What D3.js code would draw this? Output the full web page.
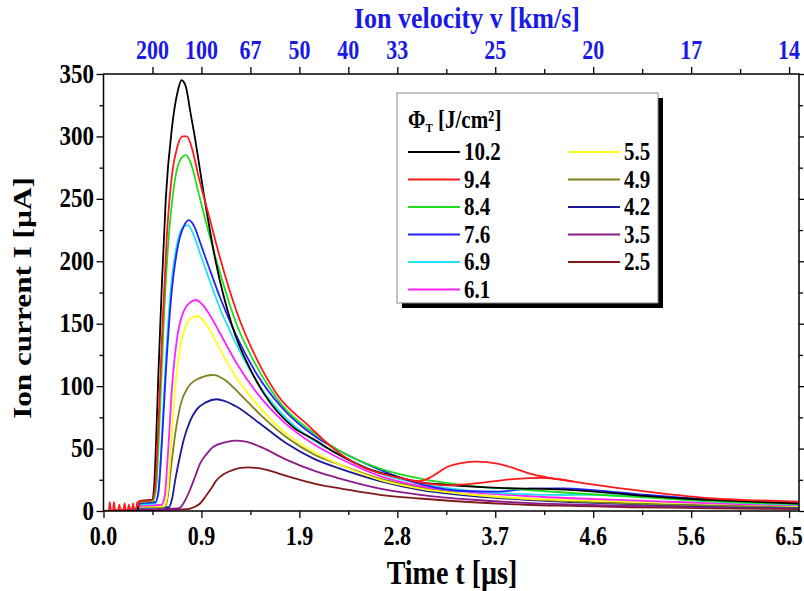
<!DOCTYPE html>
<html>
<head>
<meta charset="utf-8">
<script src="https://cdn.jsdelivr.net/npm/d3@7"></script>
<style>
  html, body { margin: 0; padding: 0; background: #fff; }
  svg { display: block; }
  text { font-family: "Liberation Serif", "Times New Roman", serif; font-weight: bold; }
</style>
</head>
<body>
<svg id="chart" width="804" height="591"></svg>
<script>
// Fluence labels (J/cm²) and line colours, legend order
const fluences = ["10.2", "9.4", "8.4", "7.6", "6.9", "6.1", "5.5", "4.9", "4.2", "3.5", "2.5"];
const colors = ["#000000", "#ff1a1a", "#1fdc1f", "#2222ff", "#22e2f2", "#ff22ff", "#ffff1a", "#80801f", "#1a1a99", "#8c1a8c", "#801a1a"];

// Ion current traces: [time µs, current µA]
const trace10_2 = [[0,0],[0.32,0],[0.34,8],[0.46,9],[0.48,20],[0.50,60],[0.52,110],[0.55,175],[0.59,250],[0.65,308],[0.70,335],[0.74,345],[0.78,340],[0.82,321],[0.86,302],[0.95,254],[1.06,201],[1.22,148],[1.4,112],[1.52,94],[1.8,67],[2.0,57],[2.21,46],[2.5,34],[2.8,27],[3.0,23],[3.25,21],[3.5,19.5],[3.75,18.5],[4.0,18],[4.25,17.5],[4.5,16.5],[5.0,13],[5.5,10],[6.0,8],[6.59,6]];
const trace9_4 = [[0,0],[0.05,0],[0.06,7],[0.07,0.5],[0.09,0.5],[0.10,7],[0.11,0.5],[0.14,1],[0.15,5],[0.16,1],[0.19,1],[0.20,6],[0.21,1],[0.23,1],[0.24,5],[0.25,1.5],[0.27,1.5],[0.28,6],[0.29,2],[0.31,2],[0.32,7],[0.33,4],[0.34,8],[0.46,8.5],[0.49,20],[0.52,70],[0.56,150],[0.6,220],[0.65,270],[0.70,292],[0.75,300],[0.79,300],[0.84,290],[0.9,268],[1.0,236],[1.1,204],[1.26,160],[1.45,122],[1.64,94],[1.96,67],[2.15,52],[2.46,35],[2.78,27],[3.0,24],[3.12,28],[3.25,35],[3.4,38.5],[3.54,39.5],[3.73,38],[3.9,34],[4.04,30],[4.2,27],[4.36,24.8],[4.61,21.5],[5.15,15.5],[5.78,10],[6.2,8.5],[6.59,7.5]];
const trace9_4b = [[2.9,24.5],[3.0,23],[3.25,20.5],[3.57,22.5],[3.88,25.5],[4.14,26.5],[4.3,25.5],[4.45,23.8]];
const trace8_4 = [[0,0],[0.32,0],[0.34,7],[0.47,8],[0.50,20],[0.53,70],[0.57,150],[0.61,210],[0.66,255],[0.72,280],[0.78,285],[0.83,278],[0.9,255],[1.0,222],[1.1,192],[1.25,152],[1.45,116],[1.7,84],[2.0,62],[2.24,48],[2.62,34],[3.0,26],[3.5,20],[4.0,17],[4.5,14],[5.0,11.5],[5.5,9],[6.0,7],[6.59,5.5]];
const trace7_6 = [[0,0],[0.32,0],[0.34,6],[0.49,7],[0.52,15],[0.55,50],[0.59,110],[0.64,170],[0.70,210],[0.76,228],[0.81,233],[0.86,228],[0.92,214],[1.0,195],[1.1,172],[1.25,142],[1.45,110],[1.7,82],[2.0,60],[2.24,48],[2.62,33],[3.03,21],[3.41,16],[3.73,15.5],[4.04,18],[4.36,18.2],[4.61,17],[5.15,12.8],[5.78,9],[6.59,6]];
const trace6_9 = [[0,0],[0.32,0],[0.34,5],[0.49,6],[0.52,15],[0.55,55],[0.59,120],[0.64,180],[0.70,215],[0.75,227],[0.80,229],[0.85,222],[0.92,205],[1.0,186],[1.1,163],[1.25,135],[1.45,104],[1.7,77],[2.0,56],[2.24,45],[2.62,30],[3.0,22],[3.5,16],[4.0,13.5],[4.36,12.8],[4.61,13],[5.15,11.2],[5.78,7.5],[6.59,5]];
const trace6_1 = [[0,0],[0.32,0],[0.34,4],[0.55,5],[0.58,12],[0.61,45],[0.65,100],[0.70,140],[0.76,160],[0.82,167],[0.877,169],[0.93,166],[1.0,158],[1.1,143],[1.25,120],[1.45,95],[1.7,72],[2.0,53],[2.24,42],[2.62,28],[3.0,20],[3.5,15],[4.0,12],[4.5,10],[5.0,8.5],[5.5,7],[6.0,5.5],[6.59,4.5]];
const trace5_5 = [[0,0],[0.32,0],[0.34,3.5],[0.57,4],[0.60,10],[0.63,40],[0.67,90],[0.72,128],[0.78,148],[0.84,155],[0.893,156],[0.95,152],[1.0,146],[1.1,130],[1.25,108],[1.45,86],[1.7,64],[2.0,47],[2.24,37],[2.62,25],[3.0,18],[3.5,13],[4.0,10],[4.5,8.5],[5.0,7.5],[5.5,6.5],[6.0,5.5],[6.59,4]];
const trace4_9 = [[0,0],[0.32,0],[0.34,3],[0.58,3],[0.61,12],[0.64,35],[0.68,62],[0.73,85],[0.80,99],[0.90,106],[1.04,109],[1.15,105],[1.3,93],[1.5,76],[1.75,58],[2.0,45],[2.24,37],[2.62,26],[3.0,19],[3.5,13],[4.0,9.5],[4.5,7.5],[5.0,6],[5.5,5],[6.0,4],[6.59,3.5]];
const trace4_2 = [[0,0],[0.32,0],[0.34,2.5],[0.62,3],[0.65,10],[0.68,25],[0.72,42],[0.76,57],[0.82,72],[0.88,81],[0.97,87],[1.073,89.5],[1.15,88],[1.262,83.5],[1.483,70],[1.736,54],[1.99,42],[2.24,34],[2.62,24],[3.0,17],[3.5,12],[4.0,9],[4.5,7],[5.0,5.5],[5.5,4.5],[6.0,3.5],[6.59,3]];
const trace3_5 = [[0,0],[0.34,1],[0.70,2],[0.73,3],[0.77,8],[0.82,17],[0.87,28],[0.915,38],[0.98,46],[1.041,51.5],[1.15,55],[1.25,56.3],[1.35,55.5],[1.483,51.5],[1.736,41],[2.02,31.5],[2.24,26],[2.62,18],[3.0,13],[3.5,9],[4.0,6.5],[4.5,5],[5.0,4],[5.5,3.5],[6.0,3],[6.59,2.5]];
const trace2_5 = [[0,0],[0.34,0.5],[0.80,1.5],[0.84,2.5],[0.88,4],[0.915,6],[0.97,12],[1.02,18],[1.073,24.8],[1.15,30],[1.23,33],[1.3,34.5],[1.373,35],[1.45,34.5],[1.547,33],[1.7,29],[1.863,25],[2.05,21],[2.24,18.2],[2.62,13],[3.0,10],[3.5,7],[4.0,5],[4.5,4],[5.0,3],[5.5,2.5],[6.0,2],[6.59,1.5]];

// Axis ticks
const timeTickStep = 0.928;           // µs between labelled time ticks
const timeTickLabels = ["0.0", "0.9", "1.9", "2.8", "3.7", "4.6", "5.6", "6.5"];
const currentTicks = [0, 50, 100, 150, 200, 250, 300, 350];
const velocityTickLabels = ["200", "100", "67", "50", "40", "33", "", "25", "", "20", "", "17", "", "14"];

const series = [
  { label: "10.2", data: [trace10_2] },
  { label: "9.4",  data: [trace9_4, trace9_4b] },
  { label: "8.4",  data: [trace8_4] },
  { label: "7.6",  data: [trace7_6] },
  { label: "6.9",  data: [trace6_9] },
  { label: "6.1",  data: [trace6_1] },
  { label: "5.5",  data: [trace5_5] },
  { label: "4.9",  data: [trace4_9] },
  { label: "4.2",  data: [trace4_2] },
  { label: "3.5",  data: [trace3_5] },
  { label: "2.5",  data: [trace2_5] }
].map(s => ({ ...s, color: colors[fluences.indexOf(s.label)] }));

const svg = d3.select("#chart");
const M = { left: 103.5, right: 799, top: 74, bottom: 511 };
const BLUE = "#1a1ae6";
const SY = 1.2;   // tall, narrow lettering (screen-vertical stretch)

const x = d3.scaleLinear().domain([0, 6.59]).range([M.left, M.right]);
const y = d3.scaleLinear().domain([0, 350]).range([M.bottom, M.top]);

const majorT = timeTickLabels.map((_, i) => i * timeTickStep);
const minorT = d3.range(timeTickLabels.length - 1).map(i => (i + 0.5) * timeTickStep);
const minorI = d3.range(25, 350, 50);
const halfStep = timeTickStep / 2;
const velT = velocityTickLabels.map((_, i) => (i + 1) * halfStep);

// text placed at a baseline point; the stretch is always along the screen's vertical
function label(g, px, py, str, size, anchor = "middle", fill = "#000", rotated = false, sy = SY) {
  const tf = rotated
    ? `translate(${px},${py}) rotate(-90) scale(${sy},1)`
    : `translate(${px},${py}) scale(1,${sy})`;
  return g.append("text").attr("transform", tf)
    .attr("text-anchor", anchor).attr("font-size", size).attr("fill", fill).text(str);
}

// Curves, clipped to the plot frame
svg.append("clipPath").attr("id", "plotClip")
  .append("rect").attr("x", M.left).attr("y", M.top)
  .attr("width", M.right - M.left).attr("height", M.bottom - M.top);

const line = d3.line().x(d => x(d[0])).y(d => y(d[1])).curve(d3.curveMonotoneX);
const curves = svg.append("g").attr("clip-path", "url(#plotClip)");
const drawOrder = ["2.5", "3.5", "4.2", "4.9", "5.5", "6.1", "6.9", "7.6", "8.4", "10.2", "9.4"];
drawOrder.forEach(lbl => {
  const s = series.find(d => d.label === lbl);
  s.data.forEach(tr => {
    curves.append("path").datum(tr)
      .attr("d", line)
      .attr("fill", "none")
      .attr("stroke", s.color)
      .attr("stroke-width", 1.8)
      .attr("stroke-linejoin", "round");
  });
});

// Axis tick marks
function ticks(axis, tx, ty) {
  svg.append("g").attr("transform", `translate(${tx},${ty})`).call(axis)
    .call(g => g.select("path.domain").remove())
    .call(g => g.selectAll("line").attr("stroke", "#000").attr("stroke-width", 1.3));
}
ticks(d3.axisBottom(x).tickValues(majorT).tickSize(7).tickFormat(""), 0, M.bottom);
ticks(d3.axisBottom(x).tickValues(minorT).tickSize(4).tickFormat(""), 0, M.bottom);
ticks(d3.axisTop(x).tickValues(velT.filter((d, i) => velocityTickLabels[i] !== "")).tickSize(7).tickFormat(""), 0, M.top);
ticks(d3.axisTop(x).tickValues(velT.filter((d, i) => velocityTickLabels[i] === "")).tickSize(5).tickFormat(""), 0, M.top);
ticks(d3.axisLeft(y).tickValues(currentTicks).tickSize(7).tickFormat(""), M.left, 0);
ticks(d3.axisLeft(y).tickValues(minorI).tickSize(4).tickFormat(""), M.left, 0);
ticks(d3.axisRight(y).tickValues(currentTicks).tickSize(7).tickFormat(""), M.right, 0);
ticks(d3.axisRight(y).tickValues(minorI).tickSize(4).tickFormat(""), M.right, 0);

// Tick labels
const tl = svg.append("g");
majorT.forEach((t, i) => label(tl, x(t), 545, timeTickLabels[i], 22));
velT.forEach((t, i) => { if (velocityTickLabels[i]) label(tl, x(t), 59, velocityTickLabels[i], 22, "middle", BLUE); });
currentTicks.forEach(v => label(tl, 94, y(v) + 8.5, d3.format("d")(v), 23, "end"));

// frame
svg.append("rect").attr("x", M.left).attr("y", M.top)
  .attr("width", M.right - M.left).attr("height", M.bottom - M.top)
  .attr("fill", "none").attr("stroke", "#000").attr("stroke-width", 1.5);

// axis titles
label(svg, 452, 584, "Time t [µs]", 28);
label(svg, 467, 28, "Ion velocity v [km/s]", 26, "middle", BLUE, false, 1.1);
label(svg, 31, 298, "Ion current I [µA]", 26, "middle", "#000", true);

// legend
const L = { x: 397, y: 93, w: 261, h: 210 };
const lg = svg.append("g");
lg.append("rect").attr("x", L.x + 5).attr("y", L.y + 5).attr("width", L.w).attr("height", L.h).attr("fill", "#000");
lg.append("rect").attr("x", L.x).attr("y", L.y).attr("width", L.w).attr("height", L.h)
  .attr("fill", "#fff").attr("stroke", "#888").attr("stroke-width", 1);
const title = label(lg, L.x + 11, L.y + 35, "", 21, "start");
title.append("tspan").text("Φ");
title.append("tspan").attr("font-size", 11).attr("dy", 3).text("T");
title.append("tspan").attr("dy", -3).text(" [J/cm²]");

fluences.forEach((lbl, i) => {
  const col = i < 6 ? 0 : 1;
  const row = i < 6 ? i : i - 6;
  const x0 = col === 0 ? L.x + 11 : L.x + 171;
  const yy = L.y + 59 + row * 27.5;
  lg.append("line").attr("x1", x0).attr("x2", x0 + 52).attr("y1", yy).attr("y2", yy)
    .attr("stroke", colors[i]).attr("stroke-width", 2);
  label(lg, x0 + 56, yy + 8, lbl, 21, "start");
});
</script>
</body>
</html>
